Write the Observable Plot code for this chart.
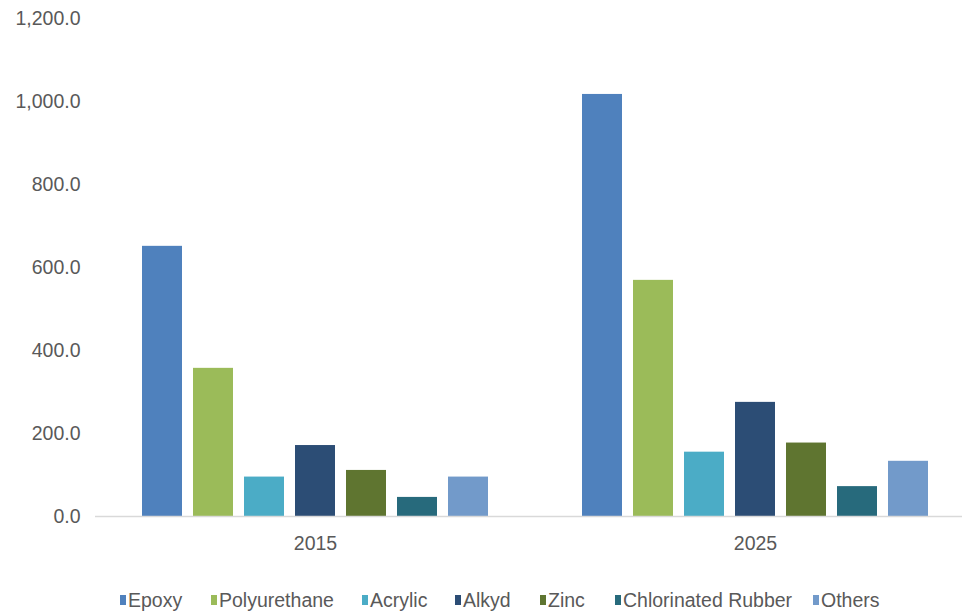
<!DOCTYPE html>
<html><head><meta charset="utf-8">
<script src="https://cdn.jsdelivr.net/npm/d3@7"></script>
<script src="https://cdn.jsdelivr.net/npm/@observablehq/plot@0.6"></script>
<style>
body{margin:0;background:#fff;font-family:"Liberation Sans",Arial,sans-serif;}
#wrap{position:relative;width:962px;height:613px;overflow:hidden;}
#legend{position:absolute;top:589px;left:0;width:962px;height:22px;font-size:19.5px;color:#595959;line-height:22px;white-space:nowrap;}
#legend .item{position:absolute;top:0;display:flex;align-items:center;}
#legend .sw{width:6px;height:10px;margin-right:2px;}
</style></head>
<body><div id="wrap"><div id="chart"></div><div id="legend"></div></div>
<script>
const years = ["2015", "2025"];
const types = ["Epoxy", "Polyurethane", "Acrylic", "Alkyd", "Zinc", "Chlorinated Rubber", "Others"];
const values2015 = [651, 357, 95, 171, 111, 46, 95];
const values2025 = [1017, 569, 155, 275, 177, 72, 133];
const colors = ["#4F81BD", "#9BBB59", "#4BACC6", "#2C4D75", "#5F7530", "#276A7C", "#729ACA"];
const yTicks = [0, 200, 400, 600, 800, 1000, 1200];
const legendLeft = [120, 211, 362, 455, 540, 615, 813];

const data = [];
types.forEach((t, i) => {
  data.push({year: years[0], type: t, value: values2015[i]});
  data.push({year: years[1], type: t, value: values2025[i]});
});

const chart = Plot.plot({
  width: 962,
  height: 565,
  marginTop: 18,
  marginBottom: 49,
  marginLeft: 97,
  marginRight: 0,
  style: {fontSize: "19.5px", fontFamily: "'Liberation Sans', Arial, sans-serif", color: "#595959", background: "#fff"},
  fx: {domain: years, range: [95, 975], padding: 0, label: null},
  x: {domain: types, paddingInner: 0.225, paddingOuter: 0.876, axis: null},
  y: {domain: [0, 1200], range: [516, 18], label: null},
  color: {domain: types, range: colors},
  marks: [
    Plot.axisY({ticks: yTicks, tickFormat: d3.format(",.1f"), tickSize: 0, tickPadding: 15, label: null}),
    Plot.barY(data, {fx: "year", x: "type", y: "value", fill: "type"}),
    Plot.ruleY([0], {stroke: "#d9d9d9", strokeWidth: 1.5}),
    Plot.axisFx({anchor: "bottom", tickSize: 0, tickPadding: 20, label: null})
  ]
});
document.getElementById("chart").appendChild(chart);

const legend = document.getElementById("legend");
types.forEach((t, i) => {
  const it = document.createElement("div");
  it.className = "item";
  it.style.left = legendLeft[i] + "px";
  const sw = document.createElement("span");
  sw.className = "sw";
  sw.style.background = colors[i];
  it.appendChild(sw);
  it.appendChild(document.createTextNode(t));
  legend.appendChild(it);
});
</script>
</body></html>
